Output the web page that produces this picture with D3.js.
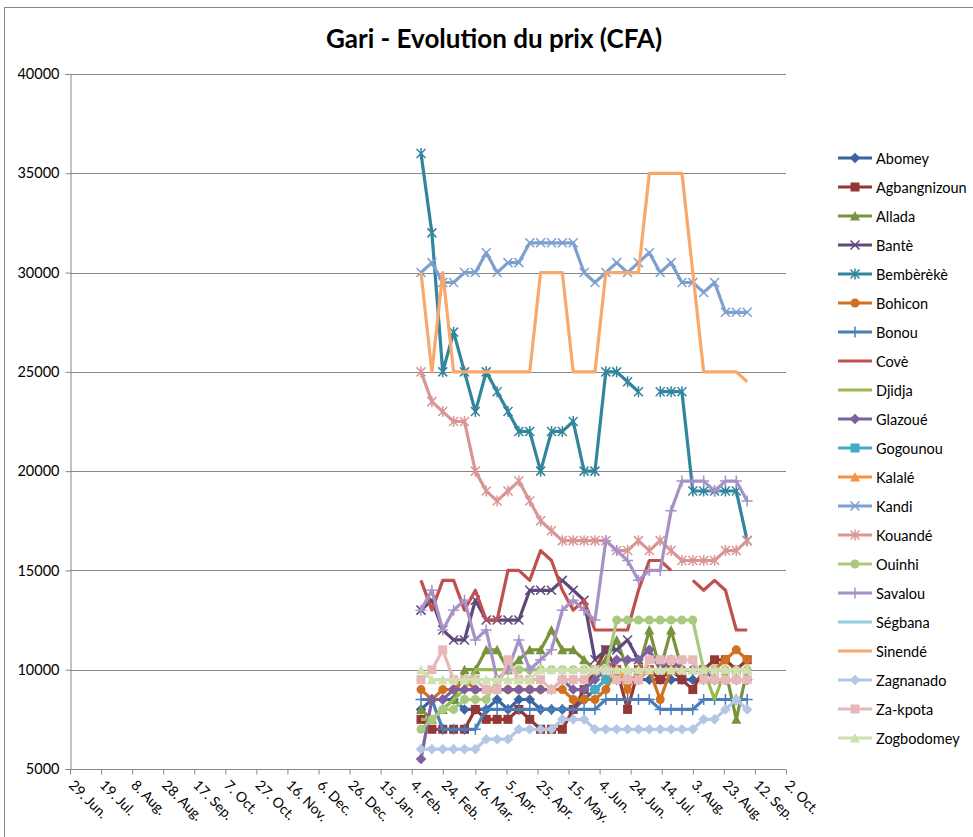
<!DOCTYPE html>
<html><head><meta charset="utf-8">
<script src="https://cdn.jsdelivr.net/npm/d3@7"></script>
<style>body{margin:0;background:#fff} svg{display:block} text{font-family:Lato,"Open Sans",sans-serif;fill:#000}</style>
</head><body>
<svg id="c" width="973" height="837"></svg>
<script>
// ---------- DATA ----------
const dates = ["2012-02-10","2012-02-17","2012-02-24","2012-03-02","2012-03-09","2012-03-16","2012-03-23","2012-03-30",
"2012-04-06","2012-04-13","2012-04-20","2012-04-27","2012-05-04","2012-05-11","2012-05-18","2012-05-25","2012-06-01",
"2012-06-08","2012-06-15","2012-06-22","2012-06-29","2012-07-06","2012-07-13","2012-07-20","2012-07-27","2012-08-03",
"2012-08-10","2012-08-17","2012-08-24","2012-08-31","2012-09-07"];
const xTickDates = ["2011-06-29","2011-07-19","2011-08-08","2011-08-28","2011-09-17","2011-10-07","2011-10-27","2011-11-16",
"2011-12-06","2011-12-26","2012-01-15","2012-02-04","2012-02-24","2012-03-16","2012-04-05","2012-04-25","2012-05-15",
"2012-06-04","2012-06-24","2012-07-14","2012-08-03","2012-08-23","2012-09-12","2012-10-02"];
const xTickLabels = ["29. Jun.","19. Jul.","8. Aug.","28. Aug.","17. Sep.","7. Oct.","27. Oct.","16. Nov.","6. Dec.",
"26. Dec.","15. Jan.","4. Feb.","24. Feb.","16. Mar.","5. Apr.","25. Apr.","15. May.","4. Jun.","24. Jun.","14. Jul.",
"3. Aug.","23. Aug.","12. Sep.","2. Oct."];
const yTicks = [5000,10000,15000,20000,25000,30000,35000,40000];
const N = null;
const seriesNames = ["Abomey","Agbangnizoun","Allada","Bantè","Bembèrèkè","Bohicon","Bonou","Covè","Djidja","Glazoué",
"Gogounou","Kalalé","Kandi","Kouandé","Ouinhi","Savalou","Ségbana","Sinendé","Zagnanado","Za-kpota","Zogbodomey"];
const abomey      = [8000,8500,8500,8500,8000,8000,8000,8500,8000,8500,8500,8000,8000,8000,8000,8500,9000,9500,9500,9500,9500,9500,9500,9500,9500,9500,9500,9500,9500,9500,9500];
const agbangnizoun= [7500,7000,7000,7000,7000,8000,7500,7500,7500,8000,7500,7000,7000,7000,8000,9000,10000,11000,10000,8000,10000,10000,9500,10000,9500,9000,10000,10500,10500,10000,10500];
const allada      = [8000,7500,8000,8500,10000,10000,11000,11000,10000,10500,11000,11000,12000,11000,11000,10500,10000,10500,11500,10000,10000,12000,10000,12000,10000,10000,10000,10000,10000,7500,10000];
const bante       = [13000,13500,12000,11500,11500,13500,12500,12500,12500,12500,14000,14000,14000,14500,14000,13500,10500,11000,11000,11500,10500,N,N,N,N,N,N,N,N,N,N];
const bemberek    = [36000,32000,25000,27000,25000,23000,25000,24000,23000,22000,22000,20000,22000,22000,22500,20000,20000,25000,25000,24500,24000,N,24000,24000,24000,19000,19000,19000,19000,19000,16500];
const bohicon     = [9000,8500,9000,9000,9500,9000,9000,9000,9000,9000,9000,9000,9000,9000,8500,8500,8500,9000,10000,9000,10000,10000,8500,10000,10000,10000,10000,10000,10500,11000,10500];
const bonou       = [8500,8500,7000,7000,7000,7000,8000,8000,8000,8000,8000,8000,8000,8000,8000,8000,8000,8500,8500,8500,8500,8500,8000,8000,8000,8000,8500,8500,8500,8500,8500];
const cove        = [14500,13000,14500,14500,13000,14000,12500,12500,15000,15000,14500,16000,15500,14000,13000,13500,12000,12000,12000,12000,14000,15500,15500,15000,N,14500,14000,14500,14000,12000,12000];
const djidja      = [7500,7500,8000,8500,9000,10000,10000,10000,10000,10000,10000,10000,10000,10000,10000,10000,10000,10000,10000,10000,10000,10000,10000,10000,10000,10000,10000,8500,10000,10000,10000];
const glazoue     = [5500,8500,8500,9000,9000,9000,9000,9000,9000,9000,9000,9000,9000,9500,9000,9000,9500,10000,10500,10500,10500,11000,10000,10500,10000,10000,10000,9500,9500,9500,9500];
const gogounou    = [N,N,N,N,N,N,N,N,N,N,N,N,N,N,N,N,9000,9500,N,N,N,N,N,N,N,N,N,N,N,N,N];
const kalale      = [N,N,N,N,N,N,N,N,N,N,N,N,N,N,N,N,N,N,10000,9500,9500,10000,10000,10000,10000,N,N,N,N,N,N];
const kandi       = [30000,30500,29500,29500,30000,30000,31000,30000,30500,30500,31500,31500,31500,31500,31500,30000,29500,30000,30500,30000,30500,31000,30000,30500,29500,29500,29000,29500,28000,28000,28000];
const kouande     = [25000,23500,23000,22500,22500,20000,19000,18500,19000,19500,18500,17500,17000,16500,16500,16500,16500,16500,16000,16000,16500,16000,16500,16000,15500,15500,15500,15500,16000,16000,16500];
const ouinhi      = [7000,7500,8000,8000,8500,8500,8500,9500,10000,10000,10000,10000,10000,10000,10000,10000,10000,10000,12500,12500,12500,12500,12500,12500,12500,12500,10000,10000,10000,10000,10000];
const savalou     = [13000,14000,12000,13000,13500,11500,12000,9500,10000,11500,10000,10500,11000,13000,13500,13000,12500,16500,16000,15500,14500,15000,15000,18000,19500,19500,19500,19000,19500,19500,18500];
const segbana     = [N,N,N,N,N,N,N,N,N,N,N,N,N,N,N,N,N,N,N,N,N,N,N,N,N,N,N,N,N,N,N];
const sinende     = [30000,25000,30000,25000,25000,25000,25000,25000,25000,25000,25000,30000,30000,30000,25000,25000,25000,30000,30000,30000,30000,35000,35000,35000,35000,30000,25000,25000,25000,25000,24500];
const zagnanado   = [6000,6000,6000,6000,6000,6000,6500,6500,6500,7000,7000,7000,7000,7500,7500,7500,7000,7000,7000,7000,7000,7000,7000,7000,7000,7000,7500,7500,8000,8500,8000];
const zakpota     = [9500,10000,11000,9500,9500,9500,9000,9000,10500,9500,9500,9500,9000,9500,9500,9500,10000,10000,9500,9500,9500,10500,10500,10500,10500,10500,9500,9500,9500,9500,9500];
const zogbodomey  = [10000,9500,9500,9500,9500,9500,9500,9500,9500,9500,9500,10000,10000,10000,10000,10000,10000,10000,10000,10000,10000,10000,10000,10000,10000,10000,10000,10000,10000,10000,10000];
const seriesValues = [abomey,agbangnizoun,allada,bante,bemberek,bohicon,bonou,cove,djidja,glazoue,gogounou,kalale,
  kandi,kouande,ouinhi,savalou,segbana,sinende,zagnanado,zakpota,zogbodomey];

// ---------- STYLE ----------
const seriesColors = ["#3a65a0","#953735","#77933c","#5f497a","#31859c","#d0711f","#4a7ebb","#c0504d","#98b954","#7d60a0",
  "#46aac5","#f69240","#7f9fcf","#d99694","#a9c97e","#a692c6","#93cddd","#f9a86b","#b3c7e5","#e6b9b8","#d0e0b0"];
const seriesMarkers = ["diamond","square","triangle","x","star","circle","plus","none","none","diamond",
  "square","triangle","x","star","circle","plus","none","none","diamond","square","triangle"];

const svg = d3.select("#c");
const parse = d3.utcParse("%Y-%m-%d");
const x = d3.scaleUtc().domain([parse(xTickDates[0]), parse(xTickDates[xTickDates.length-1])]).range([70, 786]);
const y = d3.scaleLinear().domain([5000, 40000]).range([769, 74]);

svg.append("rect").attr("x",4.5).attr("y",7.5).attr("width",1000).attr("height",1000)
  .attr("fill","#fff").attr("stroke","#868686");

svg.append("text").attr("x",494).attr("y",38).attr("text-anchor","middle").attr("dominant-baseline","central")
  .style("font-weight","bold").style("font-size","26px").text("Gari - Evolution du prix (CFA)");

// grid
svg.append("g").selectAll("line").data(yTicks).join("line")
  .attr("x1",70).attr("x2",786).attr("y1",d=>Math.round(y(d))+0.5).attr("y2",d=>Math.round(y(d))+0.5)
  .attr("stroke","#878787").attr("stroke-width",1);

const yAxis = d3.axisLeft(y).tickValues(yTicks).tickSize(5).tickFormat(d3.format("d"));
const gy = svg.append("g").attr("transform","translate(70.5,0)").call(yAxis);
gy.selectAll("path,line").attr("stroke","#878787");
gy.selectAll("text").style("font-size","14.5px").style("font-family","Lato").attr("x",-11);

const xAxis = d3.axisBottom(x).tickValues(xTickDates.map(parse)).tickSize(5).tickFormat((d,i)=>xTickLabels[i]);
const gx = svg.append("g").attr("transform","translate(0,769.5)").call(xAxis);
gx.select("path").attr("stroke","#878787").attr("d","M70,0H786");
gx.selectAll("line").attr("stroke","#878787");
gx.selectAll("text").style("font-size","14px").style("font-family","Lato")
  .attr("text-anchor","start").attr("y",0).attr("dy","0.35em")
  .attr("transform","translate(1,13) rotate(45)");

function marker(g, type, color, cx, cy){
  const s = 4.5;
  if(type==="diamond") g.append("path").attr("d",`M${cx},${cy-s-0.8}L${cx+s+0.8},${cy}L${cx},${cy+s+0.8}L${cx-s-0.8},${cy}Z`).attr("fill",color);
  else if(type==="square") g.append("rect").attr("x",cx-s).attr("y",cy-s).attr("width",2*s).attr("height",2*s).attr("fill",color);
  else if(type==="triangle") g.append("path").attr("d",`M${cx},${cy-s-0.5}L${cx+s+0.5},${cy+s}L${cx-s-0.5},${cy+s}Z`).attr("fill",color);
  else if(type==="circle") g.append("circle").attr("cx",cx).attr("cy",cy).attr("r",s).attr("fill",color);
  else if(type==="x") g.append("path").attr("d",`M${cx-s},${cy-s}L${cx+s},${cy+s}M${cx-s},${cy+s}L${cx+s},${cy-s}`).attr("stroke",color).attr("stroke-width",1.5).attr("fill","none");
  else if(type==="star") g.append("path").attr("d",`M${cx-s},${cy-s}L${cx+s},${cy+s}M${cx-s},${cy+s}L${cx+s},${cy-s}M${cx},${cy-s-1}L${cx},${cy+s+1}`).attr("stroke",color).attr("stroke-width",1.5).attr("fill","none");
  else if(type==="plus") g.append("path").attr("d",`M${cx-s-1},${cy}L${cx+s+1},${cy}M${cx},${cy-s-1}L${cx},${cy+s+1}`).attr("stroke",color).attr("stroke-width",1.5).attr("fill","none");
}

const line = d3.line().defined(d=>d.v!==null).x(d=>x(d.t)).y(d=>y(d.v));
const plot = svg.append("g");
seriesValues.forEach((vals, si) => {
  const pts = vals.map((v,i)=>({t:parse(dates[i]), v}));
  const g = plot.append("g");
  g.append("path").datum(pts).attr("d",line).attr("fill","none")
    .attr("stroke",seriesColors[si]).attr("stroke-width",3.2).attr("stroke-linejoin","round");
  if(seriesMarkers[si]!=="none"){
    pts.filter(p=>p.v!==null).forEach(p=>marker(g, seriesMarkers[si], seriesColors[si], x(p.t), y(p.v)));
  }
});

// legend
const lg = svg.append("g");
seriesNames.forEach((name, i) => {
  const cy = 158 + i*29;
  lg.append("line").attr("x1",838).attr("x2",872).attr("y1",cy).attr("y2",cy)
    .attr("stroke",seriesColors[i]).attr("stroke-width",3.2);
  if(seriesMarkers[i]!=="none") marker(lg, seriesMarkers[i], seriesColors[i], 855, cy);
  lg.append("text").attr("x",876).attr("y",cy).attr("dominant-baseline","central")
    .style("font-size","14.5px").text(name);
});
</script>
</body></html>
